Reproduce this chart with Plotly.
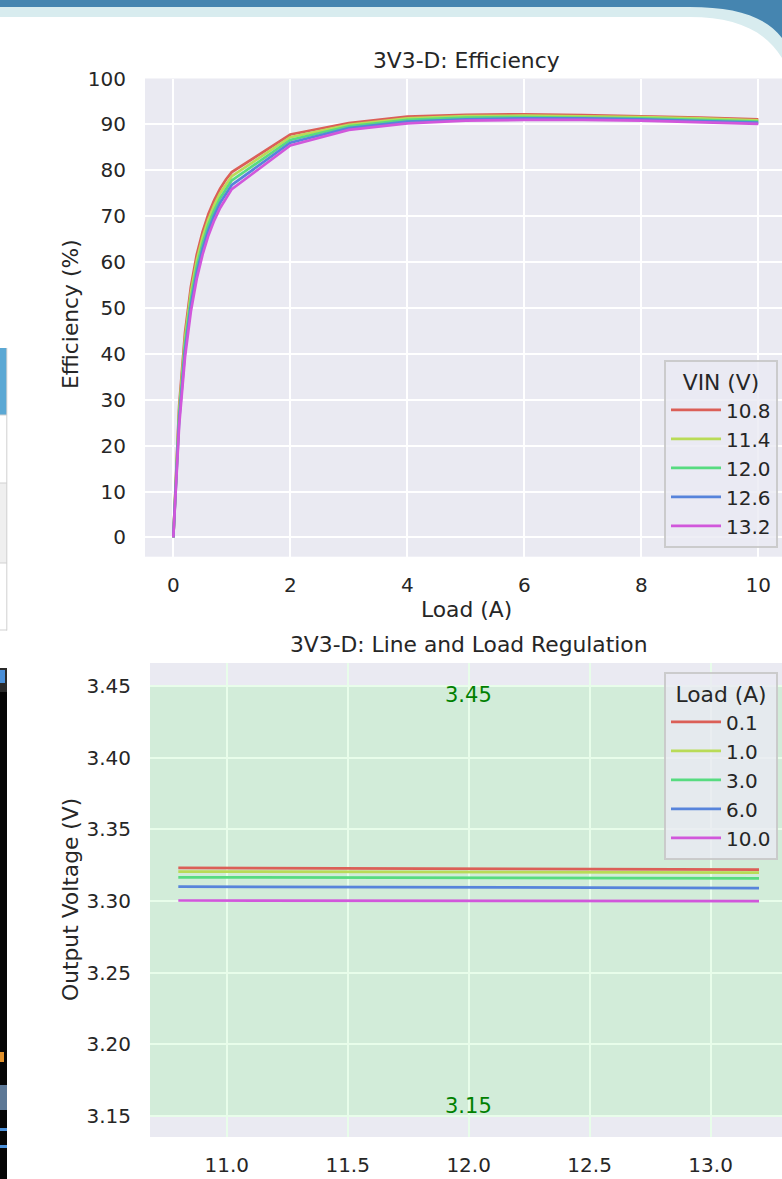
import plotly.graph_objects as go

W, H = 782, 1179

# ---------------- data ----------------
load_a = [0, 0.1, 0.2, 0.3, 0.4, 0.5, 0.6, 0.7, 0.8, 0.9, 1, 2, 3, 4, 5, 6, 7, 8, 9, 10]
vin_labels = ["10.8", "11.4", "12.0", "12.6", "13.2"]
eff_10_8 = [0, 28.7, 44.6, 54.6, 61.6, 66.6, 70.5, 73.5, 76.0, 78.0, 79.6, 87.8, 90.3, 91.7, 92.1, 92.2, 92.0, 91.8, 91.5, 91.1]
eff_11_4 = [0, 27.6, 43.3, 53.3, 60.3, 65.4, 69.3, 72.4, 75.0, 77.0, 78.7, 87.2, 89.9, 91.3, 91.8, 91.9, 91.8, 91.6, 91.3, 90.9]
eff_12_0 = [0, 26.5, 42.0, 51.9, 59.0, 64.1, 68.2, 71.3, 73.9, 76.0, 77.8, 86.6, 89.6, 91.0, 91.5, 91.6, 91.5, 91.3, 91.0, 90.6]
eff_12_6 = [0, 25.5, 40.6, 50.6, 57.6, 62.9, 67.0, 70.2, 72.9, 75.0, 76.8, 86.0, 89.2, 90.6, 91.1, 91.3, 91.3, 91.1, 90.8, 90.4]
eff_13_2 = [0, 24.4, 39.3, 49.2, 56.3, 61.6, 65.8, 69.1, 71.8, 74.0, 75.9, 85.4, 88.8, 90.2, 90.8, 91.0, 91.0, 90.8, 90.5, 90.1]

vin_v = [10.8, 11.4, 12.0, 12.6, 13.2]
load_labels = ["0.1", "1.0", "3.0", "6.0", "10.0"]
vout_0_1 = [3.3230, 3.3227, 3.3224, 3.3221, 3.3218]
vout_1_0 = [3.3205, 3.3203, 3.3201, 3.3199, 3.3197]
vout_3_0 = [3.3165, 3.3163, 3.3161, 3.3159, 3.3157]
vout_6_0 = [3.3100, 3.3098, 3.3095, 3.3092, 3.3090]
vout_10_0 = [3.3003, 3.3002, 3.3001, 3.3000, 3.2999]

spec_low, spec_high = 3.15, 3.45

colors = ["#db5f57", "#b9db57", "#57db80", "#5784db", "#d157db"]
FONT = "DejaVu Sans"
TXT = "#262626"


def px(x):
    return x / W


def py(y):
    return 1 - y / H


fig = go.Figure()

for name, ys, c in zip(vin_labels, [eff_10_8, eff_11_4, eff_12_0, eff_12_6, eff_13_2], colors):
    fig.add_trace(go.Scatter(x=load_a, y=ys, mode="lines", name=name,
                             line=dict(color=c, width=2.7),
                             xaxis="x", yaxis="y", legend="legend"))

for name, ys, c in zip(load_labels, [vout_0_1, vout_1_0, vout_3_0, vout_6_0, vout_10_0], colors):
    fig.add_trace(go.Scatter(x=vin_v, y=ys, mode="lines", name=name,
                             line=dict(color=c, width=2.7),
                             xaxis="x2", yaxis="y2", legend="legend2"))

axis_common = dict(showgrid=True, gridwidth=1.8, zeroline=False,
                   showline=False, ticks="outside", tickcolor="rgba(0,0,0,0)",
                   automargin=False,
                   tickfont=dict(family=FONT, size=20, color=TXT))

shapes = []


# decorative page background fragments (header band and left page pieces)
def P(x, y):
    return f"{px(x):.5f},{py(y):.5f}"


shapes.append(dict(type="path", xref="paper", yref="paper", layer="below",
                   path=f"M{P(0,0)} L{P(782,0)} L{P(782,58)} C{P(765,30)} {P(735,17)} {P(690,17)} L{P(0,17)} Z",
                   fillcolor="#d8ecef", line=dict(width=0)))
shapes.append(dict(type="path", xref="paper", yref="paper", layer="below",
                   path=f"M{P(0,0)} L{P(782,0)} L{P(782,38)} C{P(765,16)} {P(735,7)} {P(690,7)} L{P(0,7)} Z",
                   fillcolor="#4585b0", line=dict(width=0)))


def rect(x0, y0, x1, y1, color):
    return dict(type="rect", xref="paper", yref="paper", layer="below",
                x0=px(x0), x1=px(x1), y0=py(y1), y1=py(y0),
                fillcolor=color, line=dict(width=0))


shapes += [
    rect(0, 348, 7, 415, "#5ba8d4"),
    rect(0, 483, 7, 563, "#efefef"),
    rect(0, 414.5, 7, 415.5, "#d0d0d0"),
    rect(0, 482.5, 7, 483.5, "#d0d0d0"),
    rect(0, 562.5, 7, 563.5, "#d0d0d0"),
    rect(0, 629.5, 7, 630.5, "#d0d0d0"),
    rect(6.3, 348, 7.3, 630.5, "#d0d0d0"),
    rect(0, 668, 7, 1179, "#050505"),
    rect(0, 668, 7, 692, "#2a2a2a"),
    rect(0, 670, 5, 683, "#4a8fd8"),
    rect(0, 1085, 7, 1110, "#5d7896"),
    rect(0, 1128, 7, 1131, "#4a8fd8"),
    rect(0, 1145, 7, 1148, "#4a8fd8"),
    rect(0, 1052, 4, 1062, "#e0902a"),
]

# green spec band on the regulation plot (drawn under the traces)
shapes.append(dict(type="rect", xref="x2 domain", yref="y2", x0=0, x1=1,
                   y0=spec_low, y1=spec_high, fillcolor="rgba(0,255,0,0.1)",
                   line=dict(width=0), layer="below"))

annotations = [
    dict(text="3V3-D: Efficiency", xref="paper", yref="paper", x=px(466), y=py(60),
         xanchor="center", yanchor="middle", showarrow=False,
         font=dict(family=FONT, size=21.8, color=TXT)),
    dict(text="3V3-D: Line and Load Regulation", xref="paper", yref="paper", x=px(468.5), y=py(645),
         xanchor="center", yanchor="middle", showarrow=False,
         font=dict(family=FONT, size=21.8, color=TXT)),
    dict(text="Load (A)", xref="paper", yref="paper", x=px(466), y=py(609),
         xanchor="center", yanchor="middle", showarrow=False,
         font=dict(family=FONT, size=21.8, color=TXT)),
    dict(text="Efficiency (%)", xref="paper", yref="paper", x=px(70), y=py(314),
         xanchor="center", yanchor="middle", showarrow=False, textangle=-90,
         font=dict(family=FONT, size=21.8, color=TXT)),
    dict(text="Output Voltage (V)", xref="paper", yref="paper", x=px(70), y=py(900),
         xanchor="center", yanchor="middle", showarrow=False, textangle=-90,
         font=dict(family=FONT, size=21.8, color=TXT)),
    dict(text=f"{spec_high:.2f}", xref="x2", yref="y2", x=12.0, y=spec_high,
         xanchor="center", yanchor="middle", yshift=-9, showarrow=False,
         font=dict(family=FONT, size=21, color="green")),
    dict(text=f"{spec_low:.2f}", xref="x2", yref="y2", x=12.0, y=spec_low,
         xanchor="center", yanchor="middle", yshift=10, showarrow=False,
         font=dict(family=FONT, size=21, color="green")),
]

legend_common = dict(bgcolor="rgba(234,234,242,0.8)", bordercolor="rgba(200,200,200,0.9)",
                     borderwidth=2, font=dict(family=FONT, size=20, color=TXT),
                     xanchor="right", itemwidth=50)

fig.update_layout(
    width=W, height=H,
    margin=dict(l=0, r=0, t=0, b=0, pad=0, autoexpand=False),
    paper_bgcolor="white", plot_bgcolor="#EAEAF2",
    showlegend=True,
    xaxis=dict(domain=[px(145), 1], anchor="y", range=[-0.484, 10.405], gridcolor="white",
               tickvals=[0, 2, 4, 6, 8, 10], ticklen=10, **axis_common),
    yaxis=dict(domain=[py(556.7), py(78.5)], anchor="x", range=[-4.2, 100], gridcolor="white",
               tickvals=list(range(0, 101, 10)), ticklen=14, **axis_common),
    xaxis2=dict(domain=[px(150), 1], anchor="y2", range=[10.683, 13.295], gridcolor="rgb(232,253,234)",
                tickvals=[11.0, 11.5, 12.0, 12.5, 13.0], tickformat=".1f", ticklen=10, **axis_common),
    yaxis2=dict(domain=[py(1137), py(663)], anchor="x2", range=[3.1353, 3.466], gridcolor="rgb(232,253,234)",
                tickvals=[3.15, 3.20, 3.25, 3.30, 3.35, 3.40, 3.45], tickformat=".2f", ticklen=14, **axis_common),
    legend=dict(x=px(778), y=py(548), yanchor="bottom",
                title=dict(text="VIN (V)", side="top center", font=dict(family=FONT, size=21.8, color=TXT)),
                **legend_common),
    legend2=dict(x=px(778), y=py(672), yanchor="top",
                 title=dict(text="Load (A)", side="top center", font=dict(family=FONT, size=21.8, color=TXT)),
                 **legend_common),
    shapes=shapes,
    annotations=annotations,
)

fig.write_html("out.html",
               config={"displayModeBar": False, "responsive": False},
               post_script="document.body.style.margin='0px';document.body.style.overflow='hidden';")
